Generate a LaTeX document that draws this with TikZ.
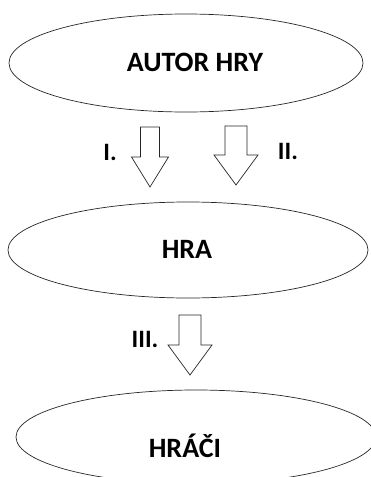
\documentclass[tikz,border=0pt]{standalone}
\usepackage{fontspec}
\setmainfont{Carlito}
\usetikzlibrary{shapes.geometric}
% block arrow: centre x, shaft half width, head half width, top y, head base y, tip y
\newcommand\blkarrow[6]{%
  \draw[blk] (#1-#2,#4) -- (#1+#2,#4) -- (#1+#2,#5) -- (#1+#3,#5) -- (#1,#6)
    -- (#1-#3,#5) -- (#1-#2,#5) -- cycle;}
\begin{document}
\begin{tikzpicture}[x=1pt,y=-1pt,
  ell/.style={draw=black!85, line width=0.7pt, ellipse, inner sep=0pt},
  big/.style={font=\fontsize{28}{30}\selectfont\bfseries, inner sep=0pt},
  num/.style={font=\fontsize{25}{28}\selectfont\bfseries, inner sep=0pt},
  blk/.style={draw=black!85, line width=0.7pt, line join=miter, fill=white}]
\useasboundingbox (0,0) rectangle (371,477);
\clip (0,0) rectangle (371,477);
% ellipses
\node[ell, minimum width=354pt, minimum height=98pt] (e1) at (186,63) {};
\node[ell, minimum width=360pt, minimum height=96pt] (e2) at (188,250) {};
\node[ell, minimum width=360pt, minimum height=94pt] (e3) at (196,437) {};
% texts
\node[big] (t1) at (195,62) {AUTOR HRY};
\node[big] (t2) at (187,249) {HRA};
\node[big] (t3) at (185,446) {HRÁČI};
% block arrows
\blkarrow{150}{9.5}{18.5}{127}{157}{187}
\blkarrow{236}{11}{22}{126}{155}{185}
\blkarrow{190}{11}{22}{315}{345}{375}
% labels
\node[num] (l1) at (110,152) {I.};
\node[num] (l2) at (288,151) {II.};
\node[num] (l3) at (145,339) {III.};
\end{tikzpicture}
\end{document}
